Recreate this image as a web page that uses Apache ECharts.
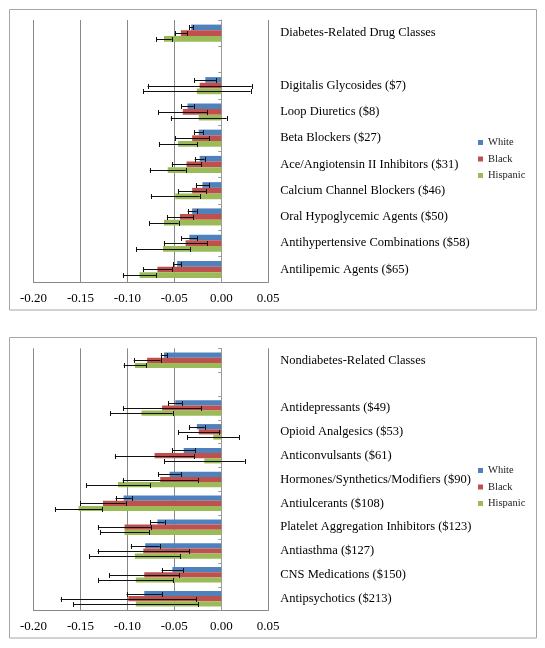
<!DOCTYPE html>
<html><head><meta charset="utf-8">
<script src="https://cdn.jsdelivr.net/npm/echarts@6/dist/echarts.min.js"></script>
<style>html,body{margin:0;padding:0;background:#fff}#c{width:545px;height:648px}</style>
</head><body><div id="c"></div>
<script>
// ---------- DATA ----------
const seriesNames = ['White', 'Black', 'Hispanic'];
const xTickLabels = ['-0.20', '-0.15', '-0.10', '-0.05', '0.00', '0.05'];

const catsTop = ['Diabetes-Related Drug Classes', '', 'Digitalis Glycosides ($7)', 'Loop Diuretics ($8)',
  'Beta Blockers ($27)', 'Ace/Angiotensin II Inhibitors ($31)', 'Calcium Channel Blockers ($46)',
  'Oral Hypoglycemic Agents ($50)', 'Antihypertensive Combinations ($58)', 'Antilipemic Agents ($65)'];
const whiteTop    = [-0.032, null, -0.017, -0.036, -0.024, -0.023, -0.020, -0.031, -0.034, -0.047];
const blackTop    = [-0.043, null, -0.023, -0.041, -0.031, -0.037, -0.031, -0.044, -0.038, -0.068];
const hispTop     = [-0.061, null, -0.026, -0.024, -0.046, -0.057, -0.049, -0.061, -0.062, -0.087];
const whiteTopErr = [0.0022, null, 0.0118, 0.0066, 0.0048, 0.0053, 0.0071, 0.0048, 0.0084, 0.0044];
const blackTopErr = [0.0066, null, 0.0555, 0.0263, 0.0182, 0.0157, 0.0151, 0.0139, 0.0231, 0.0155];
const hispTopErr  = [0.0082, null, 0.0573, 0.0298, 0.0204, 0.0192, 0.0260, 0.0155, 0.0286, 0.0178];

const catsBot = ['Nondiabetes-Related Classes', '', 'Antidepressants ($49)', 'Opioid Analgesics ($53)',
  'Anticonvulsants ($61)', 'Hormones/Synthetics/Modifiers ($90)', 'Antiulcerants ($108)',
  'Platelet Aggregation Inhibitors ($123)', 'Antiasthma ($127)', 'CNS Medications ($150)', 'Antipsychotics ($213)'];
const whiteBot    = [-0.061, null, -0.049, -0.026, -0.040, -0.055, -0.104, -0.068, -0.081, -0.052, -0.082];
const blackBot    = [-0.079, null, -0.063, -0.024, -0.071, -0.065, -0.126, -0.103, -0.083, -0.082, -0.099];
const hispBot     = [-0.092, null, -0.085, -0.0085, -0.018, -0.110, -0.152, -0.103, -0.092, -0.091, -0.091];
const whiteBotErr = [0.0034, null, 0.0075, 0.0082, 0.0121, 0.0120, 0.0086, 0.0077, 0.0154, 0.0116, 0.0189];
const blackBotErr = [0.0143, null, 0.0416, 0.0216, 0.0423, 0.0400, 0.0241, 0.0284, 0.0488, 0.0375, 0.0721];
const hispBotErr  = [0.0120, null, 0.0332, 0.0275, 0.0429, 0.0340, 0.0252, 0.0259, 0.0484, 0.0400, 0.0664];

// ---------- STYLE ----------
const colors = ['#4F81BD', '#C0504D', '#9BBB59'];
const FONT = "'Liberation Serif', 'Times New Roman', serif";
const GRID_COLOR = '#888888';
const CAT_GAP = 0.35;

const chart = echarts.init(document.getElementById('c'), null, {renderer: 'canvas'});

function errRender(pos) {
  return function (params, api) {
    const cat = api.value(0), lo = api.value(1), hi = api.value(2);
    const band = api.size([0, 1])[1];
    const group = band * (1 - CAT_GAP);
    const bw = group / 3;
    const off = -group / 2 + bw * (pos + 0.5);
    const p1 = api.coord([lo, cat]);
    const p2 = api.coord([hi, cat]);
    const y = Math.round(p1[1] + off) + 0.5;
    const cap = 2.5;
    const st = {stroke: '#111', lineWidth: 1};
    return {type: 'group', children: [
      {type: 'line', shape: {x1: p1[0], y1: y, x2: p2[0], y2: y}, style: st},
      {type: 'line', shape: {x1: Math.round(p1[0]) + 0.5, y1: y - cap, x2: Math.round(p1[0]) + 0.5, y2: y + cap}, style: st},
      {type: 'line', shape: {x1: Math.round(p2[0]) + 0.5, y1: y - cap, x2: Math.round(p2[0]) + 0.5, y2: y + cap}, style: st}
    ]};
  };
}

function errData(vals, errs) {
  const out = [];
  vals.forEach((v, i) => { if (v !== null && errs[i] !== null) out.push([i, v - errs[i], v + errs[i]]); });
  return out;
}

const gridDefs = [
  {top: 20, height: 262.6, cats: catsTop, vals: [whiteTop, blackTop, hispTop], errs: [whiteTopErr, blackTopErr, hispTopErr], legendTop: 136.5},
  {top: 348.4, height: 262.2, cats: catsBot, vals: [whiteBot, blackBot, hispBot], errs: [whiteBotErr, blackBotErr, hispBotErr], legendTop: 464.5}
];

const option = {
  animation: false,
  backgroundColor: '#fff',
  textStyle: {fontFamily: FONT},
  graphic: [
    {type: 'rect', shape: {x: 9.5, y: 9.5, width: 527, height: 300.5}, style: {fill: 'none', stroke: '#a6a6a6', lineWidth: 1}, z: -10},
    {type: 'rect', shape: {x: 9.5, y: 337.5, width: 527, height: 300.5}, style: {fill: 'none', stroke: '#a6a6a6', lineWidth: 1}, z: -10}
  ],
  grid: [], xAxis: [], yAxis: [], series: [], legend: []
};

gridDefs.forEach((g, gi) => {
  option.grid.push({left: 33.5, width: 234.7, top: g.top, height: g.height, containLabel: false});
  option.xAxis.push({
    type: 'value', gridIndex: gi, min: -0.2, max: 0.05, interval: 0.05,
    axisLine: {show: true, lineStyle: {color: GRID_COLOR, width: 1}},
    axisTick: {show: false},
    axisLabel: {margin: 9, fontFamily: FONT, fontSize: 13, color: '#000',
      formatter: v => xTickLabels[Math.round((v + 0.2) / 0.05)]},
    splitLine: {show: true, lineStyle: {color: GRID_COLOR, width: 1}}
  });
  // zero axis with ticks
  option.yAxis.push({
    type: 'category', gridIndex: gi, data: g.cats, inverse: true,
    axisLine: {show: true, onZero: true, lineStyle: {color: '#9a9a9a', width: 1}},
    axisTick: {show: true, length: 3, lineStyle: {color: '#9a9a9a'}},
    axisLabel: {show: false},
    splitLine: {show: false}
  });
  // label axis at right
  option.yAxis.push({
    type: 'category', gridIndex: gi, data: g.cats, inverse: true, position: 'right',
    axisLine: {show: false, onZero: false}, axisTick: {show: false},
    axisLabel: {show: true, margin: 12, fontFamily: FONT, fontSize: 12.5, color: '#000', interval: 0},
    splitLine: {show: false}
  });
  const yIdx = gi * 2;
  seriesNames.forEach((name, si) => {
    option.series.push({
      type: 'bar', name: name, xAxisIndex: gi, yAxisIndex: yIdx,
      data: g.vals[si], barGap: '0%', barCategoryGap: (CAT_GAP * 100) + '%',
      itemStyle: {color: colors[si]}, z: 2
    });
  });
  seriesNames.forEach((name, si) => {
    option.series.push({
      type: 'custom', name: name + ' error', xAxisIndex: gi, yAxisIndex: yIdx,
      renderItem: errRender(si), data: errData(g.vals[si], g.errs[si]),
      encode: {x: [1, 2], y: 0}, z: 5, silent: true
    });
  });
  option.legend.push({
    data: seriesNames, orient: 'vertical', left: 478, top: g.legendTop, padding: 0,
    icon: 'rect', itemWidth: 5, itemHeight: 5, itemGap: 4.5,
    textStyle: {fontFamily: FONT, fontSize: 10.5, color: '#222', lineHeight: 12}
  });
});

chart.setOption(option);
</script>
</body></html>
